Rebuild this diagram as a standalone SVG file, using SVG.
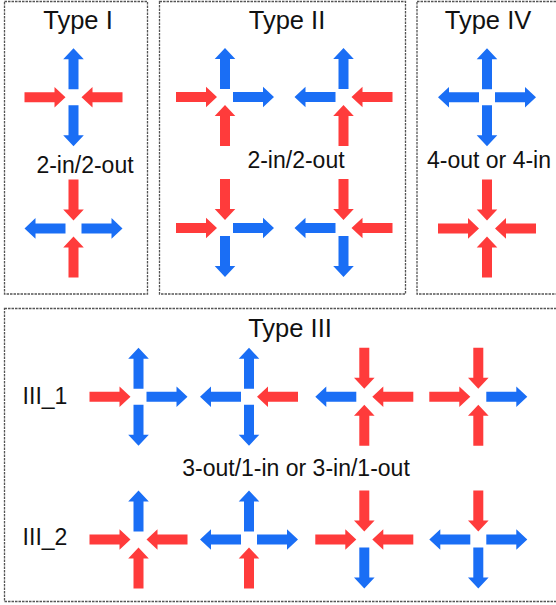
<svg xmlns="http://www.w3.org/2000/svg" xmlns:xlink="http://www.w3.org/1999/xlink" width="556" height="605" viewBox="0 0 556 605">
<style>
.box{fill:none;stroke:#555;stroke-width:1.3;stroke-dasharray:2.5,1}
.r{fill:#ff3b3b}
.b{fill:#1a6ef5}
text{font-family:"Liberation Sans",Arial,sans-serif;fill:#111;text-anchor:middle}
.t{font-size:25.5px}
.l{font-size:23px}
</style>
<defs>
<path id="out" d="M8,-5H38V-10.3L49,0L38,10.3V5H8Z"/>
<path id="in" d="M49,-5H19V-10.3L8,0L19,10.3V5H49Z"/>
</defs>
<rect width="556" height="605" fill="#fff"/>
<g id="frames">
<rect class="box" x="4.5" y="1.5" width="143" height="292.5"/>
<rect class="box" x="159.5" y="1.5" width="246" height="292.5"/>
<rect class="box" x="417" y="1.5" width="150" height="292.5"/>
<rect class="box" x="4.5" y="308.5" width="560" height="293"/>
</g>
<g id="labels">
<text class="t" x="78" y="28.5">Type I</text>
<text class="t" x="287" y="28.5">Type II</text>
<text class="t" x="488" y="28.5">Type IV</text>
<text class="t" x="290" y="336.5">Type III</text>
<text class="l" x="85" y="172.5">2-in/2-out</text>
<text class="l" x="296" y="167.5">2-in/2-out</text>
<text class="l" x="489" y="167.5">4-out or 4-in</text>
<text class="l" x="296" y="475.5">3-out/1-in or 3-in/1-out</text>
<text class="l" x="45" y="404">III_1</text>
<text class="l" x="45" y="545">III_2</text>
</g>
<g id="typeI-a" transform="translate(73.5,97.3)">
<use href="#in" class="r" transform="rotate(180)"/>
<use href="#in" class="r"/>
<use href="#out" class="b" transform="rotate(-90)"/>
<use href="#out" class="b" transform="rotate(90)"/>
</g>
<g id="typeI-b" transform="translate(73.5,228.4)">
<use href="#in" class="r" transform="rotate(-90)"/>
<use href="#in" class="r" transform="rotate(90)"/>
<use href="#out" class="b" transform="rotate(180)"/>
<use href="#out" class="b"/>
</g>
<g id="typeII-a" transform="translate(225,97)">
<use href="#in" class="r" transform="rotate(180)"/>
<use href="#out" class="b"/>
<use href="#out" class="b" transform="rotate(-90)"/>
<use href="#in" class="r" transform="rotate(90)"/>
</g>
<g id="typeII-b" transform="translate(343.5,97)">
<use href="#out" class="b" transform="rotate(180)"/>
<use href="#in" class="r"/>
<use href="#out" class="b" transform="rotate(-90)"/>
<use href="#in" class="r" transform="rotate(90)"/>
</g>
<g id="typeII-c" transform="translate(225,228)">
<use href="#in" class="r" transform="rotate(180)"/>
<use href="#out" class="b"/>
<use href="#in" class="r" transform="rotate(-90)"/>
<use href="#out" class="b" transform="rotate(90)"/>
</g>
<g id="typeII-d" transform="translate(343.5,228)">
<use href="#out" class="b" transform="rotate(180)"/>
<use href="#in" class="r"/>
<use href="#in" class="r" transform="rotate(-90)"/>
<use href="#out" class="b" transform="rotate(90)"/>
</g>
<g id="typeIV-a" transform="translate(487,97.3)">
<use href="#out" class="b" transform="rotate(180)"/>
<use href="#out" class="b"/>
<use href="#out" class="b" transform="rotate(-90)"/>
<use href="#out" class="b" transform="rotate(90)"/>
</g>
<g id="typeIV-b" transform="translate(487,228.4)">
<use href="#in" class="r" transform="rotate(180)"/>
<use href="#in" class="r"/>
<use href="#in" class="r" transform="rotate(-90)"/>
<use href="#in" class="r" transform="rotate(90)"/>
</g>
<g id="III1-a" transform="translate(138.5,396.7)">
<use href="#in" class="r" transform="rotate(180)"/>
<use href="#out" class="b"/>
<use href="#out" class="b" transform="rotate(-90)"/>
<use href="#out" class="b" transform="rotate(90)"/>
</g>
<g id="III1-b" transform="translate(249,396.7)">
<use href="#out" class="b" transform="rotate(180)"/>
<use href="#in" class="r"/>
<use href="#out" class="b" transform="rotate(-90)"/>
<use href="#out" class="b" transform="rotate(90)"/>
</g>
<g id="III1-c" transform="translate(364.3,396.7)">
<use href="#out" class="b" transform="rotate(180)"/>
<use href="#in" class="r"/>
<use href="#in" class="r" transform="rotate(-90)"/>
<use href="#in" class="r" transform="rotate(90)"/>
</g>
<g id="III1-d" transform="translate(478.3,396.7)">
<use href="#in" class="r" transform="rotate(180)"/>
<use href="#out" class="b"/>
<use href="#in" class="r" transform="rotate(-90)"/>
<use href="#in" class="r" transform="rotate(90)"/>
</g>
<g id="III2-a" transform="translate(138.5,539.5)">
<use href="#in" class="r" transform="rotate(180)"/>
<use href="#in" class="r"/>
<use href="#out" class="b" transform="rotate(-90)"/>
<use href="#in" class="r" transform="rotate(90)"/>
</g>
<g id="III2-b" transform="translate(249,539.5)">
<use href="#out" class="b" transform="rotate(180)"/>
<use href="#out" class="b"/>
<use href="#out" class="b" transform="rotate(-90)"/>
<use href="#in" class="r" transform="rotate(90)"/>
</g>
<g id="III2-c" transform="translate(364.3,539.5)">
<use href="#in" class="r" transform="rotate(180)"/>
<use href="#in" class="r"/>
<use href="#in" class="r" transform="rotate(-90)"/>
<use href="#out" class="b" transform="rotate(90)"/>
</g>
<g id="III2-d" transform="translate(478.3,539.5)">
<use href="#out" class="b" transform="rotate(180)"/>
<use href="#out" class="b"/>
<use href="#in" class="r" transform="rotate(-90)"/>
<use href="#out" class="b" transform="rotate(90)"/>
</g>
</svg>
